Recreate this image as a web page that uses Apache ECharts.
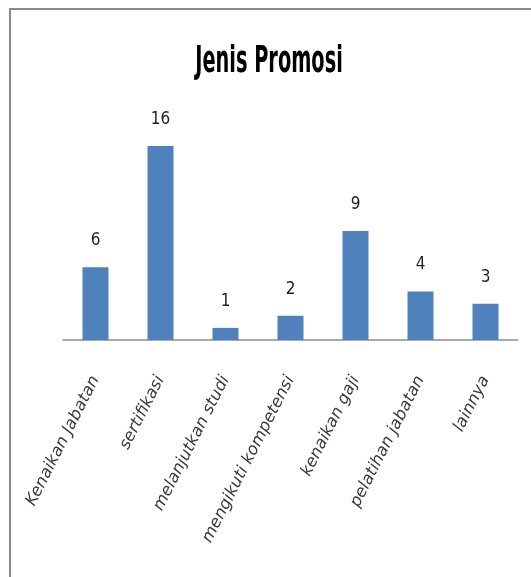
<!DOCTYPE html>
<html>
<head>
<meta charset="utf-8">
<script src="https://cdn.jsdelivr.net/npm/echarts@6/dist/echarts.min.js"></script>
<style>
html,body{margin:0;padding:0;background:#fff;}
#frame{position:absolute;left:9px;top:8px;width:600px;height:600px;border-left:2px solid #8a8a8a;border-top:2px solid #8a8a8a;}
#chart{position:absolute;left:0;top:0;width:531px;height:577px;}
</style>
</head>
<body>
<div id="frame"></div>
<div id="chart"></div>
<script>
const titleText = 'Jenis Promosi';
const categories = ['Kenaikan Jabatan','sertifikasi','melanjutkan studi','mengikuti kompetensi','kenaikan gaji','pelatihan jabatan','lainnya'];
const values = [6,16,1,2,9,4,3];

const chart = echarts.init(document.getElementById('chart'), null, {renderer:'canvas'});
chart.setOption({
  backgroundColor: 'transparent',
  animation: false,
  graphic: [{
    type: 'text',
    x: 269, y: 43,
    scaleY: 1.75,
    style: {
      text: titleText,
      textAlign: 'center', textVerticalAlign: 'top',
      font: "bold 21.5px 'DejaVu Sans Condensed', sans-serif",
      fill: '#000'
    }
  }],
  grid: {left: 63, right: 13, top: 146, bottom: 237, containLabel: false},
  xAxis: {
    type: 'category',
    data: categories,
    axisLine: {show: true, lineStyle: {color: '#8c8c8c', width: 1.5}},
    axisTick: {show: false},
    axisLabel: {
      interval: 0, rotate: 63, margin: 37,
      fontFamily: "'DejaVu Sans',sans-serif", fontStyle: 'italic', fontSize: 16.5, color: '#3a3a3a'
    }
  },
  yAxis: {
    type: 'value', min: 0, max: 16,
    show: false
  },
  series: [{
    type: 'bar',
    data: values,
    barWidth: 26,
    itemStyle: {color: '#4F81BD'},
    label: {
      show: true, position: 'top', distance: 18,
      fontFamily: "'DejaVu Sans Condensed',sans-serif", fontSize: 17, color: '#222'
    }
  }]
});
</script>
</body>
</html>
